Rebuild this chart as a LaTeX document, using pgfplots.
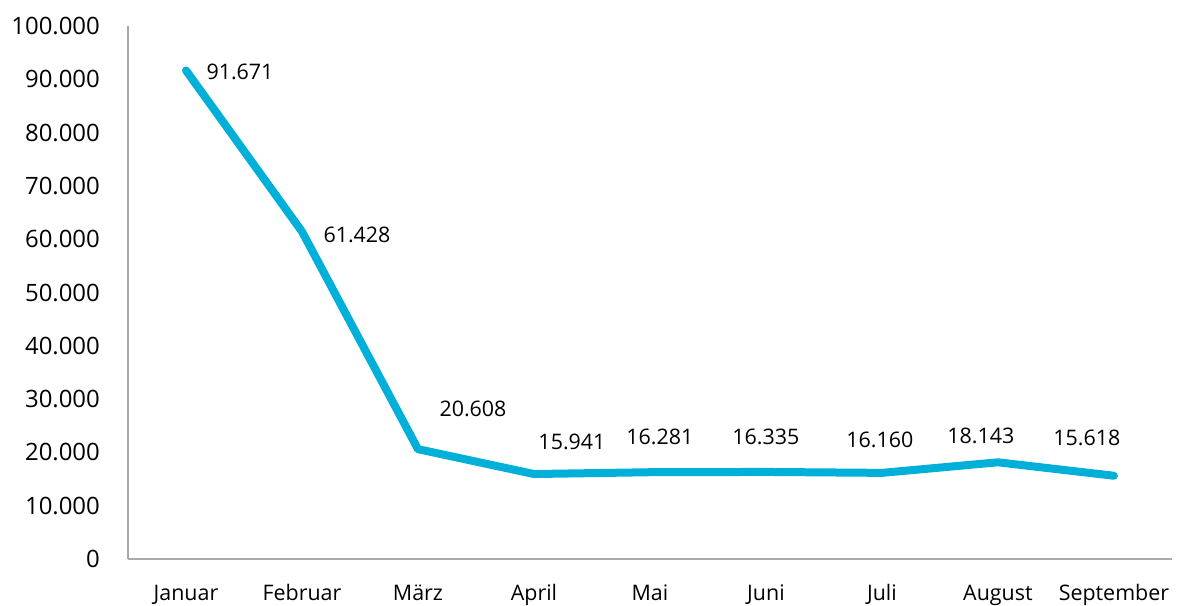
\documentclass[border=0pt]{standalone}
\usepackage{fontspec}
\setmainfont{Open Sans}
\usepackage{pgfplots}
\usepackage{pgfplotstable}
\pgfplotsset{compat=1.18}
\definecolor{linecyan}{RGB}{0,176,216}
\definecolor{axisgray}{RGB}{170,170,170}
\pgfplotstableread{
x y dx dy
0 91671 54 -2
1 61428 55 -3
2 20608 55 40
3 15941 38 32
4 16281 10 35
5 16335 0 35
6 16160 -2 33
7 18143 -17 26
8 15618 -27 38
}\datatable
\begin{document}
\begin{tikzpicture}
\begin{axis}[
  at={(0,0)}, anchor=south west,
  scale only axis, width=1044bp, height=533bp,
  xmin=-0.5, xmax=8.5, ymin=0, ymax=100000,
  axis x line=bottom, axis y line=left,
  axis line style={-, axisgray, line width=1.5bp},
  major tick length=0pt,
  xtick={0,...,8},
  xticklabels={Januar,Februar,März,April,Mai,Juni,Juli,August,September},
  ytick={0,10000,...,100000},
  scaled y ticks=false,
  /pgf/number format/.cd, fixed, precision=0, 1000 sep={.}, assume math mode=true,
  /pgfplots/.cd,
  yticklabel style={font=\fontsize{24}{28}\selectfont, anchor=east, inner sep=0pt, xshift=-28bp},
  xticklabel style={font=\fontsize{21.5}{26}\selectfont, anchor=base, inner sep=0pt, yshift=-41bp},
  clip=false,
  nodes near coords,
  visualization depends on={\thisrow{dx} \as \dx},
  visualization depends on={\thisrow{dy} \as \dy},
  nodes near coords style={font=\fontsize{21.5}{26}\selectfont, anchor=center, inner sep=0pt, xshift=\dx bp, yshift=\dy bp, text=black},
]
\addplot[linecyan, line width=8bp, line join=round, line cap=round, mark=none] table[x=x, y=y] {\datatable};
\end{axis}
\path[use as bounding box] (-128bp,-44bp) rectangle (1051bp,559bp);
\end{tikzpicture}
\end{document}
